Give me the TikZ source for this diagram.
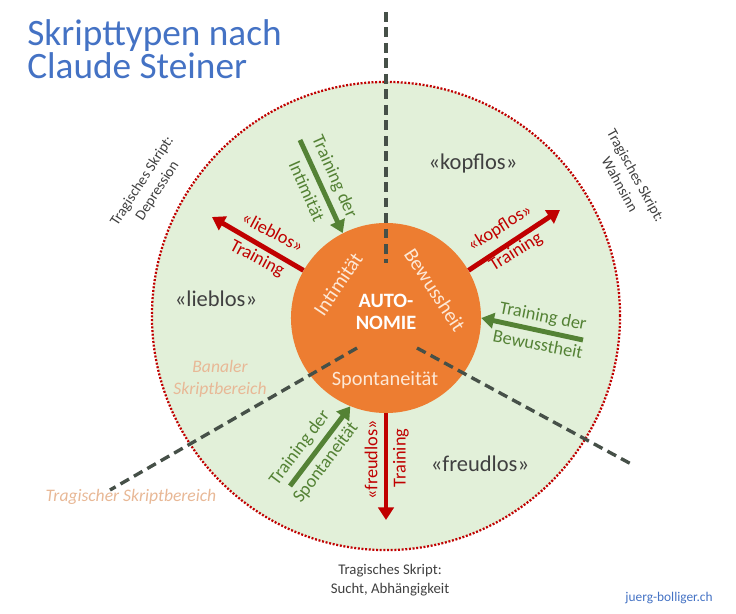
\documentclass[tikz,border=0pt]{standalone}
\usepackage{fontspec}
\setmainfont{Carlito}
\usetikzlibrary{positioning, arrows.meta}
\definecolor{skblue}{RGB}{68,114,196}
\definecolor{skfield}{RGB}{226,240,217}
\definecolor{skred}{RGB}{192,0,0}
\definecolor{skgreen}{RGB}{84,130,53}
\definecolor{skorange}{RGB}{237,125,49}
\definecolor{skgray}{RGB}{70,80,72}
\definecolor{sktext}{RGB}{64,64,64}
\definecolor{skpeach}{RGB}{232,184,150}
\definecolor{skcream}{RGB}{253,232,214}

\tikzset{
  trainarrow/.style={line width=3.5pt, -{Triangle[width=11pt,length=9pt]}},
  redarrow/.style={trainarrow, draw=skred},
  greenarrow/.style={trainarrow, draw=skgreen},
  redlabel/.style={text=skred, font=\fontsize{13}{14}\selectfont, inner sep=1pt},
  greenlabel/.style={text=skgreen, font=\fontsize{13}{14}\selectfont, inner sep=1pt},
  scripttype/.style={text=sktext, font=\fontsize{16}{18}\selectfont},
  tragic/.style={text=sktext, font=\fontsize{10.5}{13}\selectfont, align=center},
  zonelabel/.style={text=skpeach, font=\itshape\fontsize{12.5}{15.5}\selectfont, align=center},
  innerlabel/.style={text=skcream, font=\fontsize{14.5}{16}\selectfont},
  sectorline/.style={line width=2.4pt, draw=skgray, dash pattern=on 7pt off 4pt},
}

\begin{document}
\begin{tikzpicture}[x=0.025cm, y=-0.025cm]
\useasboundingbox (0,0) rectangle (736,613);

% title
\node[anchor=north west, inner sep=0, align=left, text=skblue,
      font=\fontsize{26.5}{22.5}\selectfont] (title) at (27,19)
  {Skripttypen nach\\Claude Steiner};

% script field and autonomy circle
\node[circle, minimum size=11.7cm, inner sep=0, fill=skfield, draw=skred,
      line width=1.6pt, dash pattern=on 1.4pt off 1.2pt] (field) at (386,316) {};
\node[circle, minimum size=4.75cm, inner sep=0, fill=skorange] (auto) at (386,318) {};

% sector borders
\coordinate (topend) at (386,12);
\coordinate (topin) at (386,263);
\coordinate (leftend) at (110,490);
\coordinate (leftin) at (357,348);
\coordinate (rightend) at (633,465);
\coordinate (rightin) at (417,348);
\draw[sectorline] (topend) -- (topin);
\draw[sectorline] (leftin) -- (leftend);
\draw[sectorline] (rightin) -- (rightend);

% circle texts
\node[font=\bfseries\fontsize{14.5}{16}\selectfont, text=white, align=center]
  (autotext) at (386,312) {AUTO-\\NOMIE};
\node[innerlabel, rotate=56] (intim) at (338,284) {Intimität};
\node[innerlabel, rotate=-57] (bewuss) at (435,290) {Bewussheit};
\node[innerlabel] (spont) at (385,380) {Spontaneität};

% script types
\node[scripttype] (kopflos) at (473,163) {«kopflos»};
\node[scripttype] (lieblos) at (216,299) {«lieblos»};
\node[scripttype] (freudlos) at (480,464) {«freudlos»};
\node[zonelabel] (banal) at (220,379) {Banaler\\Skriptbereich};
\node[zonelabel] (tragzone) at (131,497) {Tragischer Skriptbereich};

% tragic scripts
\node[tragic, rotate=57] (depr) at (150,186) {Tragisches Skript:\\Depression};
\node[tragic, rotate=-61] (wahn) at (628,180) {Tragisches Skript:\\Wahnsinn};
\node[tragic] (sucht) at (390,580) {Tragisches Skript:\\Sucht, Abhängigkeit};

% training arrows
\coordinate (liebtip) at (212,217);
\coordinate (inttail) at (300,140);
\coordinate (kopftip) at (560,210);
\coordinate (bewtail) at (583,340);
\coordinate (spotail) at (290,486);
\coordinate (freutip) at (386,520);
\draw[redarrow] (auto.150) -- (liebtip);
\draw[greenarrow] (inttail) -- (auto.117);
\draw[redarrow] (auto.30) -- (kopftip);
\draw[greenarrow] (bewtail) -- (auto.0);
\draw[greenarrow] (spotail) -- (auto.248);
\draw[redarrow] (auto.270) -- (freutip);

% arrow labels
\node[redlabel, rotate=-28] (lieblab) at (273,232) {«lieblos»};
\node[redlabel, rotate=-28] (liebtrain) at (257,259) {Training};
\node[greenlabel, rotate=-66] (inttrain) at (334,177) {Training der};
\node[greenlabel, rotate=-66] (intlab) at (307,191) {Intimität};
\node[redlabel, rotate=32] (kopflab) at (500,228) {«kopflos»};
\node[redlabel, rotate=32] (kopftrain) at (516,252) {Training};
\node[greenlabel, rotate=-11] (bewtrain) at (543,317) {Training der};
\node[greenlabel, rotate=-11] (bewlab) at (538,344) {Bewusstheit};
\node[greenlabel, rotate=53] (spotrain) at (300,448) {Training der};
\node[greenlabel, rotate=53] (spolab) at (326,463) {Spontaneität};
\node[redlabel, rotate=90] (freulab) at (371,460) {«freudlos»};
\node[redlabel, rotate=90] (freutrain) at (401,458) {Training};

% web address
\node[text=skblue, font=\fontsize{9.5}{11}\selectfont] (web) at (669,598) {juerg-bolliger.ch};
\end{tikzpicture}
\end{document}
